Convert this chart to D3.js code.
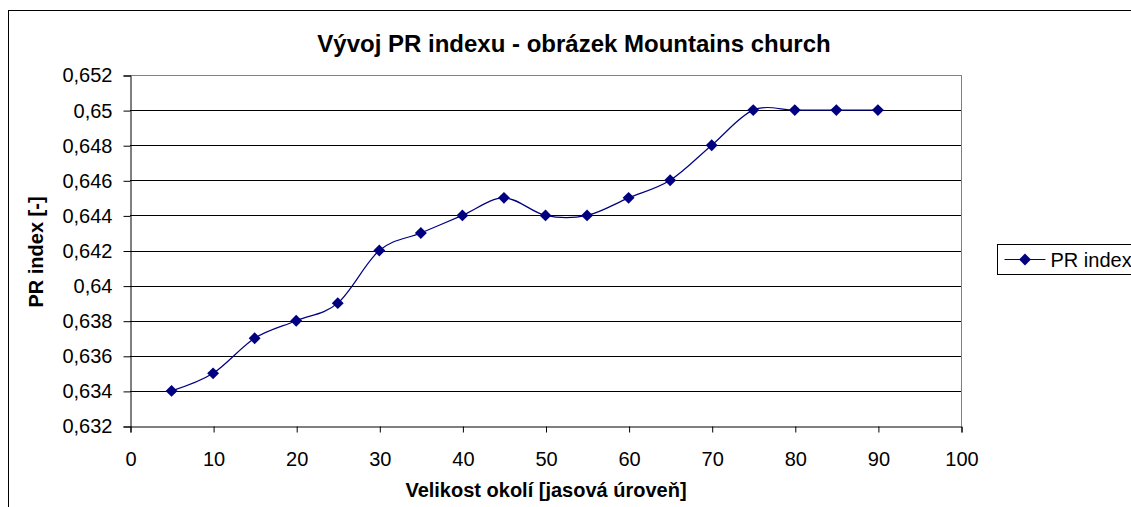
<!DOCTYPE html>
<html>
<head>
<meta charset="utf-8">
<script src="https://cdn.jsdelivr.net/npm/d3@7"></script>
<style>
  body { margin: 0; background: #fff; }
  text { font-family: "Liberation Sans", Arial, sans-serif; }
</style>
</head>
<body>
<div id="chart"></div>
<script>
// data
const xValues = [5, 10, 15, 20, 25, 30, 35, 40, 45, 50, 55, 60, 65, 70, 75, 80, 85, 90];
const prIndex = [0.634, 0.635, 0.637, 0.638, 0.639, 0.642, 0.643, 0.644, 0.645, 0.644,
                 0.644, 0.645, 0.646, 0.648, 0.650, 0.650, 0.650, 0.650];
const xTicks = [0, 10, 20, 30, 40, 50, 60, 70, 80, 90, 100];
const yTicks = [0.632, 0.634, 0.636, 0.638, 0.640, 0.642, 0.644, 0.646, 0.648, 0.650, 0.652];
const seriesName = "PR index";

const width = 1131, height = 507;
const plot = { left: 130, right: 961, top: 75, bottom: 426 };

const svg = d3.select("#chart").append("svg")
    .attr("width", width)
    .attr("height", height);

// outer chart frame (cut off at right/bottom like the original)
svg.append("rect")
    .attr("x", 8.5).attr("y", 10.5)
    .attr("width", 1140).attr("height", 520)
    .attr("fill", "#fff")
    .attr("stroke", "#000").attr("stroke-width", 1);

const x = d3.scaleLinear().domain([0, 100]).range([plot.left, plot.right]);
const y = d3.scaleLinear().domain([0.632, 0.652]).range([plot.bottom, plot.top]);

const fmt = v => String(+v.toFixed(3)).replace(".", ",");

// gridlines
svg.append("g")
    .selectAll("line")
    .data(yTicks.slice(1))
    .join("line")
    .attr("x1", plot.left).attr("x2", plot.right)
    .attr("y1", d => Math.round(y(d)) + 0.5)
    .attr("y2", d => Math.round(y(d)) + 0.5)
    .attr("stroke", d => d === 0.652 ? "#808080" : "#000")
    .attr("stroke-width", 1);

// right border of the plot area
svg.append("line")
    .attr("x1", plot.right + 0.5).attr("x2", plot.right + 0.5)
    .attr("y1", plot.top).attr("y2", plot.bottom)
    .attr("stroke", "#808080");

// y axis
const yAxis = svg.append("g")
    .attr("transform", `translate(${plot.left + 0.5},0.5)`)
    .call(d3.axisLeft(y).tickValues(yTicks).tickFormat(fmt).tickSize(7).tickPadding(11));
yAxis.select(".domain").attr("stroke", "#000");
yAxis.selectAll("text").attr("font-size", 20).attr("fill", "#000")
    .style("font-family", "'Liberation Sans', Arial, sans-serif");

// x axis
const xAxis = svg.append("g")
    .attr("transform", `translate(0.5,${plot.bottom + 0.5})`)
    .call(d3.axisBottom(x).tickValues(xTicks).tickFormat(d3.format("d")).tickSize(6).tickPadding(19));
xAxis.select(".domain").attr("stroke", "#000");
xAxis.selectAll("text").attr("font-size", 20).attr("fill", "#000")
    .style("font-family", "'Liberation Sans', Arial, sans-serif");

// smoothed series line
const points = xValues.map((d, i) => [d, prIndex[i]]);
const line = d3.line()
    .x(d => x(d[0]))
    .y(d => y(d[1]))
    .curve(d3.curveCatmullRom.alpha(0));

svg.append("path")
    .datum(points)
    .attr("d", line)
    .attr("fill", "none")
    .attr("stroke", "#000080")
    .attr("stroke-width", 1.2);

const diamond = d3.symbol().type(d3.symbolDiamond2).size(90);
svg.append("g")
    .selectAll("path")
    .data(points)
    .join("path")
    .attr("transform", d => `translate(${x(d[0])},${y(d[1])})`)
    .attr("d", diamond)
    .attr("fill", "#000080");

// title
svg.append("text")
    .attr("x", 574).attr("y", 52)
    .attr("text-anchor", "middle")
    .attr("font-size", 24).attr("font-weight", "bold")
    .text("Vývoj PR indexu - obrázek Mountains church");

// axis titles
svg.append("text")
    .attr("x", 546).attr("y", 497)
    .attr("text-anchor", "middle")
    .attr("font-size", 20).attr("font-weight", "bold")
    .text("Velikost okolí [jasová úroveň]");

svg.append("text")
    .attr("transform", "translate(43,252) rotate(-90)")
    .attr("text-anchor", "middle")
    .attr("font-size", 20).attr("font-weight", "bold")
    .text("PR index [-]");

// legend
const legend = svg.append("g").attr("transform", "translate(997.5,244.5)");
legend.append("rect")
    .attr("width", 160).attr("height", 30)
    .attr("fill", "#fff").attr("stroke", "#000");
legend.append("line")
    .attr("x1", 7).attr("x2", 48).attr("y1", 15).attr("y2", 15)
    .attr("stroke", "#000080").attr("stroke-width", 1.2);
legend.append("path")
    .attr("transform", "translate(27.5,15)")
    .attr("d", diamond)
    .attr("fill", "#000080");
legend.append("text")
    .attr("x", 53).attr("y", 22)
    .attr("font-size", 20)
    .text(seriesName);
</script>
</body>
</html>
